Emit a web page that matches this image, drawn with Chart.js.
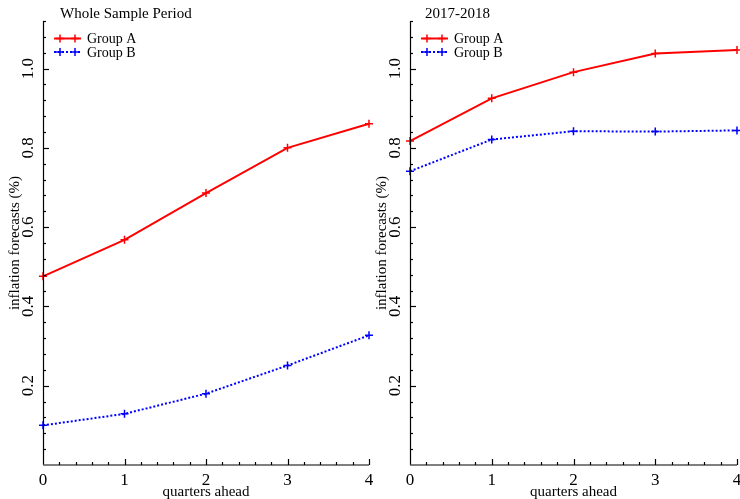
<!DOCTYPE html>
<html>
<head>
<meta charset="utf-8">
<script src="https://cdn.jsdelivr.net/npm/chart.js@4/dist/chart.umd.min.js"></script>
<style>
  html, body { margin: 0; padding: 0; background: #fff; }
  #wrap { position: relative; width: 740px; height: 499px; overflow: hidden; }
  .panel { position: absolute; top: 0; height: 499px; }
  .ttl { position: absolute; top: 5px; font: 15px "Liberation Serif", "DejaVu Serif", serif; color: #000; white-space: nowrap; }
</style>
</head>
<body>
<div id="wrap">
  <div class="panel" style="left:370px;width:370px"><canvas id="c2" width="370" height="499"></canvas></div>
  <div class="panel" style="left:0;width:380px"><canvas id="c1" width="380" height="499"></canvas></div>
  <div class="ttl" style="left:60px">Whole Sample Period</div>
  <div class="ttl" style="left:425px">2017-2018</div>
</div>
<script>
// ---- data ----
const quarters = [0, 1, 2, 3, 4];
const wholeGroupA = [0.476, 0.568, 0.686, 0.800, 0.861];
const wholeGroupB = [0.100, 0.129, 0.180, 0.251, 0.327];
const recentGroupA = [0.817, 0.925, 0.991, 1.038, 1.047];
const recentGroupB = [0.741, 0.821, 0.842, 0.841, 0.844];
const seriesNames = ['Group A', 'Group B'];
const xTickLabels = ['0', '1', '2', '3', '4'];
const yTickValues = [0.2, 0.4, 0.6, 0.8, 1.0];
const yTickLabels = ['0.2', '0.4', '0.6', '0.8', '1.0'];
const xTitle = 'quarters ahead';
const yTitle = 'inflation forecasts (%)';

const SERIF = '"Liberation Serif", "DejaVu Serif", serif';
const RED = '#ff0000', BLUE = '#0000ff';

function pts(ys) { return quarters.map((q, i) => ({x: q, y: ys[i]})); }

const axesPlugin = {
  id: 'axesPlugin',
  afterDraw(chart) {
    const ctx = chart.ctx, a = chart.chartArea;
    const xs = chart.scales.x, ys = chart.scales.y;
    ctx.save();
    // y axis line
    ctx.strokeStyle = '#000'; ctx.lineWidth = 1.2;
    ctx.beginPath(); ctx.moveTo(Math.round(a.left) + 0.5, a.top); ctx.lineTo(Math.round(a.left) + 0.5, a.bottom); ctx.stroke();
    // y ticks: minor every 0.04, major at labels
    for (let k = 1; k * 0.04 <= ys.max + 1e-9; k++) {
      const v = k * 0.04;
      const y = Math.round(ys.getPixelForValue(v)) + 0.5;
      const major = Math.abs(v / 0.2 - Math.round(v / 0.2)) < 1e-6;
      ctx.beginPath(); ctx.moveTo(a.left, y); ctx.lineTo(a.left + (major ? 6 : 3), y); ctx.stroke();
    }
    // x axis line
    ctx.strokeStyle = '#555'; ctx.lineWidth = 1.6;
    ctx.beginPath(); ctx.moveTo(a.left, a.bottom); ctx.lineTo(a.right, a.bottom); ctx.stroke();
    ctx.strokeStyle = '#000'; ctx.lineWidth = 1.2;
    for (let k = 1; k <= 20; k++) {
      const v = k * 0.2;
      const x = Math.round(xs.getPixelForValue(v)) + 0.5;
      const major = k % 5 === 0;
      ctx.beginPath(); ctx.moveTo(x, a.bottom); ctx.lineTo(x, a.bottom - (major ? 6 : 3)); ctx.stroke();
    }
    // tick labels
    ctx.fillStyle = '#000';
    ctx.font = '17px ' + SERIF;
    ctx.textAlign = 'center'; ctx.textBaseline = 'middle';
    quarters.forEach((q, i) => {
      ctx.fillText(xTickLabels[i], xs.getPixelForValue(q), a.bottom + 16);
    });
    yTickValues.forEach((v, i) => {
      ctx.save();
      ctx.translate(a.left - 14, ys.getPixelForValue(v));
      ctx.rotate(-Math.PI / 2);
      ctx.fillText(yTickLabels[i], 0, 0);
      ctx.restore();
    });
    // axis titles
    ctx.font = '15px ' + SERIF;
    ctx.fillText(xTitle, (a.left + a.right) / 2, a.bottom + 27);
    ctx.save();
    ctx.translate(a.left - 28, (a.top + a.bottom) / 2);
    ctx.rotate(-Math.PI / 2);
    ctx.fillText(yTitle, 0, 0);
    ctx.restore();
    // legend
    const lx0 = a.left + 11, lx1 = a.left + 38;
    const rows = [38.5, 52];
    chart.data.datasets.forEach((ds, i) => {
      const y = rows[i];
      ctx.strokeStyle = ds.borderColor; ctx.lineWidth = 2;
      ctx.setLineDash(ds.borderDash || []);
      ctx.beginPath(); ctx.moveTo(lx0, y); ctx.lineTo(lx1, y); ctx.stroke();
      ctx.setLineDash([]);
      ctx.lineWidth = 1.5;
      [lx0 + 6, lx1 - 6].forEach(px => {
        ctx.beginPath();
        ctx.moveTo(px - 4, y); ctx.lineTo(px + 4, y);
        ctx.moveTo(px, y - 4); ctx.lineTo(px, y + 4);
        ctx.stroke();
      });
      ctx.fillStyle = '#000';
      ctx.font = '14px ' + SERIF;
      ctx.textAlign = 'left';
      ctx.fillText(ds.label, a.left + 44, y + 1);
    });
    ctx.restore();
  }
};

function makeChart(id, a, b, padLeft, padRight) {
  return new Chart(document.getElementById(id), {
    type: 'line',
    data: {
      datasets: [
        { label: seriesNames[0], data: pts(a), borderColor: RED, backgroundColor: RED,
          borderWidth: 2, pointStyle: 'cross', pointRadius: 4, pointBorderWidth: 1.5,
          pointBorderColor: RED, tension: 0, clip: false },
        { label: seriesNames[1], data: pts(b), borderColor: BLUE, backgroundColor: BLUE,
          borderWidth: 2, borderDash: [2, 2], pointStyle: 'cross', pointRadius: 4, pointBorderWidth: 1.5,
          pointBorderColor: BLUE, tension: 0, clip: false }
      ]
    },
    options: {
      responsive: false,
      animation: false,
      layout: { autoPadding: false, padding: { left: padLeft, right: padRight, top: 21, bottom: 34 } },
      plugins: { legend: { display: false }, title: { display: false }, tooltip: { enabled: false } },
      scales: {
        x: { type: 'linear', min: 0, max: 4, display: false },
        y: { type: 'linear', min: 0, max: 1.12, display: false }
      }
    },
    plugins: [axesPlugin]
  });
}

makeChart('c1', wholeGroupA, wholeGroupB, 43, 11);
makeChart('c2', recentGroupA, recentGroupB, 40, 3);
</script>
</body>
</html>
